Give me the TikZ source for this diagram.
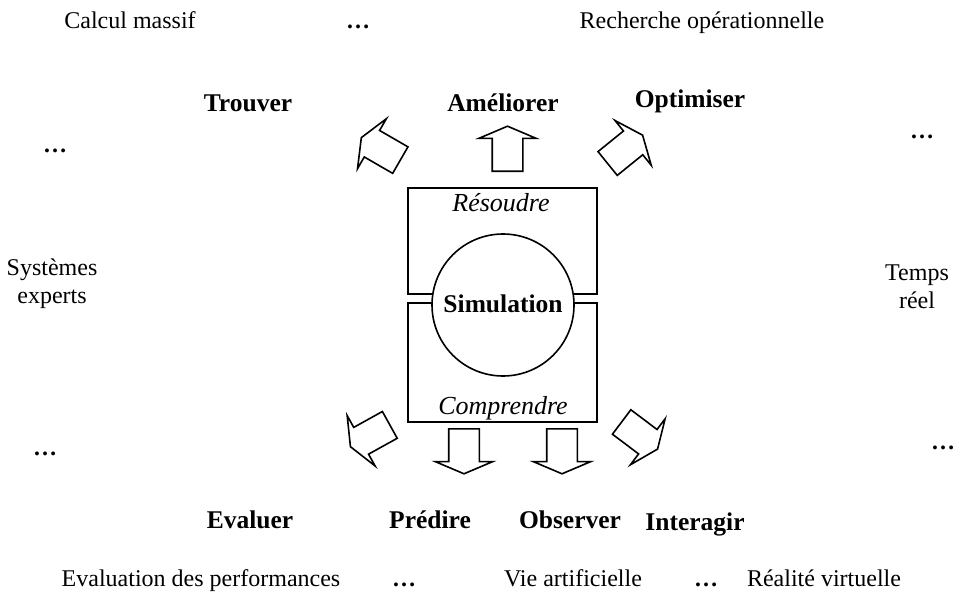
\documentclass[tikz,border=0pt]{standalone}
\usepackage{fontspec}
\setmainfont{Liberation Serif}
\usetikzlibrary{shapes.arrows,positioning}

\begin{document}
\begin{tikzpicture}[x=1pt,y=-1pt,line width=1.6pt,
  font=\fontsize{24}{27.6}\selectfont,
  word/.style={anchor=base,inner sep=0pt},
  verb/.style={word,font=\fontsize{25.5}{29}\selectfont\bfseries},
  dots/.style={word,font=\fontsize{24}{27.6}\selectfont\bfseries},
  pair/.style={inner sep=0pt,align=center},
  blockarrow/.style={draw,single arrow,anchor=tail,minimum height=45pt,
    minimum width=56pt,inner sep=14.5pt,single arrow head extend=13.5pt,
    single arrow tip angle=134,line join=miter}]
\useasboundingbox (0,0) rectangle (971,607);

% the two frames and the circle on top of them
\node[draw,minimum width=189pt,minimum height=106pt,inner sep=0pt] (solve) at (502.5,241) {};
\node[draw,minimum width=189pt,minimum height=119pt,inner sep=0pt] (grasp) at (502.5,362.5) {};
\node[draw,circle,fill=white,minimum size=142pt,inner sep=0pt] (sim) at (503,305) {};
\node[word,font=\fontsize{25.5}{29}\selectfont\bfseries] at (503,312) {Simulation};
\node[word,font=\fontsize{26}{30}\selectfont\itshape] (res) at (501,211) {Résoudre};
\node[word,font=\fontsize{26}{30}\selectfont\itshape] (comp) at (503,414) {Comprendre};

% block arrows around the frames
\node[blockarrow,rotate=150] (aTrouver) at (401,160.5) {};
\node[blockarrow,rotate=90] (aAmeliorer) at (507.5,172) {};
\node[blockarrow,rotate=39] (aOptimiser) at (607,164) {};
\node[blockarrow,rotate=209] (aEvaluer) at (390.5,424.5) {};
\node[blockarrow,rotate=-90] (aPredire) at (464,428) {};
\node[blockarrow,rotate=-90] (aObserver) at (562,428) {};
\node[blockarrow,rotate=-37] (aInteragir) at (621,421.5) {};

% verbs
\node[verb] (trouver) at (248,112) {Trouver};
\node[verb] (ameliorer) at (503,112) {Améliorer};
\node[verb] (optimiser) at (690,108) {Optimiser};
\node[verb] (evaluer) at (250,528) {Evaluer};
\node[verb] (predire) at (430,528) {Prédire};
\node[verb] (observer) at (570,528) {Observer};
\node[verb] (interagir) at (695,530) {Interagir};

% fields of application
\node[word] (calcul) at (130,29) {Calcul massif};
\node[dots] (d1) at (358,29) {\dots};
\node[word] (recherche) at (702,29) {Recherche opérationnelle};
\node[dots] (d2) at (55,153) {\dots};
\node[dots] (d3) at (922,139) {\dots};
\node[pair] (experts) at (52,283.5) {Systèmes\\experts};
\node[pair] (temps) at (917,287) {Temps\\réel};
\node[dots] (d4) at (45,455) {\dots};
\node[dots] (d5) at (943,449) {\dots};
\node[word] (perf) at (201,586) {Evaluation des performances};
\node[dots] (d6) at (404,586) {\dots};
\node[word] (vie) at (573,586) {Vie artificielle};
\node[dots] (d7) at (706,586) {\dots};
\node[word] (virtuel) at (824,586) {Réalité virtuelle};
\end{tikzpicture}
\end{document}
